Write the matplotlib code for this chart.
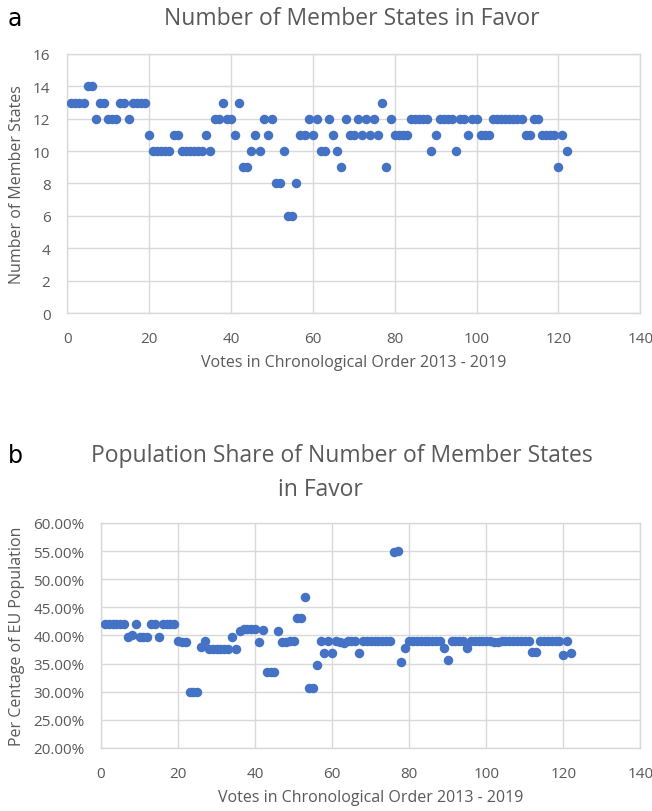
import matplotlib
matplotlib.use('Agg')
import matplotlib.pyplot as plt
from matplotlib import rcParams
from matplotlib.ticker import FuncFormatter

rcParams['font.family'] = ['Open Sans', 'DejaVu Sans']
rcParams['font.size'] = 11

# votes numbered 1..122 in chronological order
votes = list(range(1, 123))

# (a) number of member states in favour
states = [13, 13, 13, 13, 14, 14, 12, 13, 13, 12,
          12, 12, 13, 13, 12, 13, 13, 13, 13, 11,
          10, 10, 10, 10, 10, 11, 11, 10, 10, 10,
          10, 10, 10, 11, 10, 12, 12, 13, 12, 12,
          11, 13, 9, 9, 10, 11, 10, 12, 11, 12,
          8, 8, 10, 6, 6, 8, 11, 11, 12, 11,
          12, 10, 10, 12, 11, 10, 9, 12, 11, 11,
          12, 11, 12, 11, 12, 11, 13, 9, 12, 11,
          11, 11, 11, 12, 12, 12, 12, 12, 10, 11,
          12, 12, 12, 12, 10, 12, 12, 11, 12, 12,
          11, 11, 11, 12, 12, 12, 12, 12, 12, 12,
          12, 11, 11, 12, 12, 11, 11, 11, 11, 9,
          11, 10]

# (b) population share of those states (%)
pop_share = [42.1, 42.1, 42.1, 42.1, 42.1, 42.1, 39.7, 40.1, 42.1, 39.8,
             39.8, 39.8, 42.1, 42.1, 39.8, 42.1, 42.1, 42.1, 42.1, 39.1,
             38.8, 38.8, 29.9, 29.9, 29.9, 38.0, 39.1, 37.6, 37.6, 37.6,
             37.6, 37.6, 37.6, 39.8, 37.6, 40.8, 41.1, 41.1, 41.1, 41.1,
             38.8, 41.0, 33.5, 33.5, 33.5, 40.8, 38.8, 38.9, 39.0, 39.0,
             43.1, 43.1, 46.9, 30.7, 30.7, 34.7, 39.0, 36.9, 39.0, 36.9,
             39.0, 38.8, 38.7, 39.0, 39.0, 39.0, 36.8, 39.0, 39.0, 39.0,
             39.0, 39.0, 39.0, 39.0, 39.0, 54.9, 55.1, 35.3, 37.7, 39.0,
             39.0, 39.0, 39.0, 39.0, 39.0, 39.0, 39.0, 39.0, 37.7, 35.7,
             39.0, 39.0, 39.0, 39.0, 37.8, 39.0, 39.0, 39.0, 39.0, 39.0,
             39.0, 38.8, 38.8, 39.0, 39.0, 39.0, 39.0, 39.0, 39.0, 39.0,
             39.0, 37.0, 37.0, 39.0, 39.0, 39.0, 39.0, 39.0, 39.0, 36.6,
             39.0, 36.8]

blue = '#4472C4'
grey = '#595959'
grid = '#D9D9D9'

fig = plt.figure(figsize=(6.52, 8.12), dpi=100)


def style(ax):
    ax.grid(True, color=grid, linewidth=1.0)
    ax.set_axisbelow(True)
    for s in ax.spines.values():
        s.set_color(grid)
        s.set_linewidth(1.0)
    ax.tick_params(length=0, labelsize=11, colors=grey)
    ax.tick_params(axis='x', pad=13)
    ax.tick_params(axis='y', pad=12)


ax1 = fig.add_axes([0.103, 0.6133, 0.879, 0.319])
ax1.scatter(votes, states, s=34, color=blue, zorder=3)
ax1.set_xlim(0, 140)
ax1.set_ylim(0, 16)
ax1.set_xticks(range(0, 141, 20))
ax1.set_yticks(range(0, 17, 2))
style(ax1)
ax1.set_xlabel('Votes in Chronological Order 2013 - 2019', fontsize=11.5,
               color=grey, labelpad=6)
ax1.set_ylabel('Number of Member States', fontsize=11.5, color=grey,
               labelpad=6)
fig.text(0.54, 0.976, 'Number of Member States in Favor', fontsize=16.5,
         color=grey, ha='center', va='center')
fig.text(0.012, 0.976, 'a', fontsize=17, color='black', ha='left',
         va='center', family='DejaVu Sans')

ax2 = fig.add_axes([0.155, 0.0776, 0.827, 0.2771])
ax2.scatter(votes, pop_share, s=34, color=blue, zorder=3)
ax2.set_xlim(0, 140)
ax2.set_ylim(20, 60)
ax2.set_xticks(range(0, 141, 20))
ax2.set_yticks(range(20, 61, 5))
ax2.yaxis.set_major_formatter(FuncFormatter(lambda v, p: '%.2f%%' % v))
style(ax2)
ax2.set_xlabel('Votes in Chronological Order 2013 - 2019', fontsize=11.5,
               color=grey, labelpad=6)
ax2.set_ylabel('Per Centage of EU Population', fontsize=11.5, color=grey,
               labelpad=6)
fig.text(0.525, 0.439, 'Population Share of Number of Member States',
         fontsize=16.5, color=grey, ha='center', va='center')
fig.text(0.491, 0.396, 'in Favor',
         fontsize=16.5, color=grey, ha='center', va='center')
fig.text(0.012, 0.439, 'b', fontsize=17, color='black', ha='left',
         va='center', family='DejaVu Sans')

fig.savefig('out.png', dpi=100)
